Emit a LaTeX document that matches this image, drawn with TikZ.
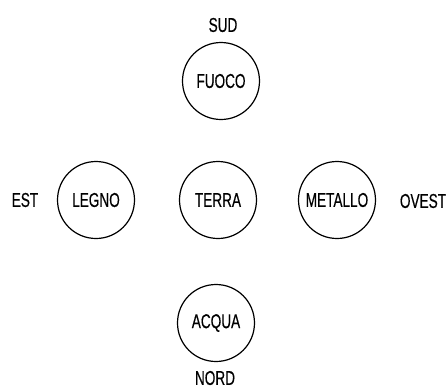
\documentclass[tikz,border=0pt]{standalone}
\usepackage{fontspec}
\setmainfont[FakeStretch=0.68,FakeBold=0.4]{Liberation Sans}
\begin{document}
\begin{tikzpicture}[x=1pt,y=-1pt,
  elem/.style={draw, circle, line width=1.2pt, minimum size=77pt, inner sep=0pt, font=\fontsize{20}{24}\selectfont},
  dir/.style={font=\fontsize{20}{24}\selectfont, inner sep=0pt}]
\useasboundingbox (0,0) rectangle (448,389);
\node[elem] (fuoco) at (221,81) {FUOCO};
\node[elem] (legno) at (96,200) {LEGNO};
\node[elem] (terra) at (218,200) {TERRA};
\node[elem] (metallo) at (337,200) {METALLO};
\node[elem] (acqua) at (216,323) {ACQUA};
\node[dir] (sud) at (223,25) {SUD};
\node[dir] (est) at (25,200) {EST};
\node[dir] (ovest) at (423,201) {OVEST};
\node[dir] (nord) at (215,378) {NORD};
\end{tikzpicture}
\end{document}
